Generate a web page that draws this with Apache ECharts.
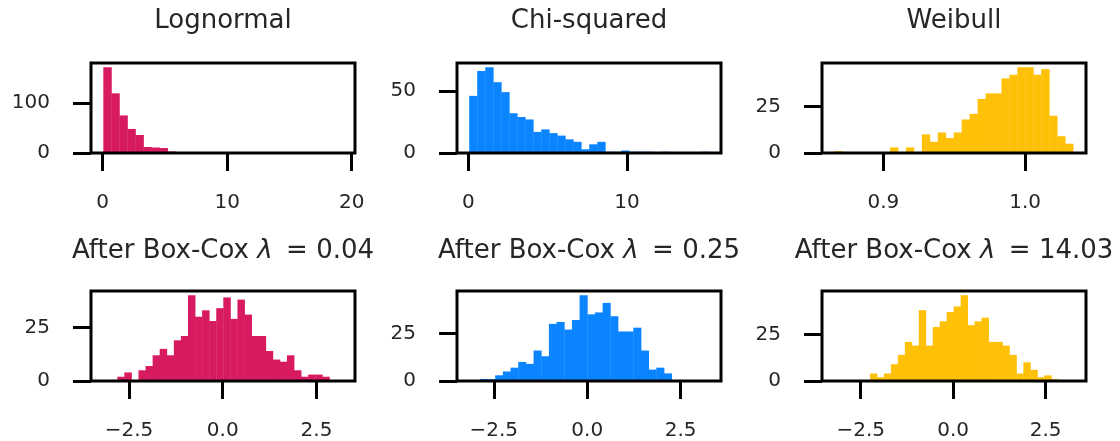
<!DOCTYPE html>
<html>
<head>
<meta charset="utf-8">
<script src="https://cdn.jsdelivr.net/npm/echarts@6/dist/echarts.min.js"></script>
<style>
  html, body { margin: 0; padding: 0; background: #ffffff; }
  #chart { width: 1120px; height: 441px; }
</style>
</head>
<body>
<div id="chart"></div>
<script>
// ---- Titles ----
const topTitles = ['Lognormal', 'Chi-squared', 'Weibull'];
const boxCoxLambdas = ['0.04', '0.25', '14.03'];

// ---- Histogram bins: first edge, bin width, counts per bin ----
const lognormalStart = 0.05, lognormalWidth = 0.645;
const lognormalCounts = [171, 119, 75, 48, 36, 12, 11, 10, 3, 2, 2, 2, 1, 1, 1, 0, 1, 0, 1, 0, 0, 1, 0, 0, 0, 1, 0, 0, 0, 1];

const chiSquaredStart = 0.06, chiSquaredWidth = 0.504;
const chiSquaredCounts = [46, 66, 69, 57, 49, 32, 29, 27, 17, 19, 16, 14, 11, 9, 3, 7, 9, 1, 1, 2, 1, 1, 1, 0, 1, 0, 0, 0, 0, 1];

const weibullStart = 0.8654, weibullWidth = 0.005616;
const weibullCounts = [1, 0, 0, 0, 0, 0, 0, 3, 0, 3, 0, 10, 6, 11, 8, 11, 18, 21, 29, 32, 32, 40, 42, 46, 46, 42, 45, 20, 9, 5];

const lognormalBcStart = -2.811, lognormalBcWidth = 0.1885;
const lognormalBcCounts = [2, 4, 0, 5, 7, 12, 15, 12, 19, 21, 40, 30, 33, 28, 34, 39, 29, 38, 31, 21, 21, 14, 10, 9, 12, 5, 2, 3, 3, 2];

const chiSquaredBcStart = -2.873, chiSquaredBcWidth = 0.2053;
const chiSquaredBcCounts = [1, 1, 3, 5, 7, 10, 9, 16, 13, 30, 31, 27, 32, 45, 35, 36, 41, 34, 26, 26, 28, 16, 6, 7, 4];

const weibullBcStart = -2.249, weibullBcWidth = 0.1885;
const weibullBcCounts = [4, 2, 4, 9, 14, 21, 19, 38, 19, 29, 32, 37, 40, 46, 30, 32, 34, 21, 21, 19, 14, 4, 10, 6, 2, 3, 1];

// ---- Axis ranges and ticks ----
const xRanges = [[-0.94, 20.27], [-0.71, 15.92], [0.8567, 1.0430], [-3.512, 3.528], [-3.485, 3.58], [-3.546, 3.59]];
const xTickValues = [[0, 10, 20], [0, 10], [0.9, 1.0], [-2.5, 0, 2.5], [-2.5, 0, 2.5], [-2.5, 0, 2.5]];
const xTickLabels = [['0', '10', '20'], ['0', '10'], ['0.9', '1.0'], ['\u22122.5', '0.0', '2.5'], ['\u22122.5', '0.0', '2.5'], ['\u22122.5', '0.0', '2.5']];
const yTickValues = [[0, 100], [0, 50], [0, 25], [0, 25], [0, 25], [0, 25]];
const yTickLabels = [['0', '100'], ['0', '50'], ['0', '25'], ['0', '25'], ['0', '25'], ['0', '25']];

const colors = ['#D81B60', '#0A84FF', '#FFC107'];

const panels = [
  [lognormalStart, lognormalWidth, lognormalCounts],
  [chiSquaredStart, chiSquaredWidth, chiSquaredCounts],
  [weibullStart, weibullWidth, weibullCounts],
  [lognormalBcStart, lognormalBcWidth, lognormalBcCounts],
  [chiSquaredBcStart, chiSquaredBcWidth, chiSquaredBcCounts],
  [weibullBcStart, weibullBcWidth, weibullBcCounts]
];

// ---- Layout of the 2 x 3 panel grid (pixels) ----
const colLefts = [91, 457, 822];
const panelWidth = 264;
const rowTops = [63, 291];
const rowHeights = [90, 92];
const titleY = [21, 251];

const FONT = 'DejaVu Sans';
const TEXT = '#262626';
const INK = '#000000';

function histData(start, width, counts) {
  return counts.map((c, i) => [start + i * width, start + (i + 1) * width, c]);
}

function labelFormatter(values, labels) {
  return function (v) {
    for (let i = 0; i < values.length; i++) {
      if (Math.abs(values[i] - v) < 1e-9) return labels[i];
    }
    return '';
  };
}

const grids = [], xAxes = [], yAxes = [], series = [], graphics = [];

for (let p = 0; p < 6; p++) {
  const row = Math.floor(p / 3), col = p % 3;
  const [start, width, counts] = panels[p];
  const color = colors[col];
  const yMax = Math.max.apply(null, counts) * 1.05;

  grids.push({
    left: colLefts[col], top: rowTops[row],
    width: panelWidth, height: rowHeights[row],
    show: true, borderColor: INK, borderWidth: 3,
    backgroundColor: 'transparent', z: 5
  });

  xAxes.push({
    type: 'value', gridIndex: p, position: 'bottom',
    min: xRanges[p][0], max: xRanges[p][1],
    axisLine: { show: false, onZero: false },
    splitLine: { show: false },
    axisTick: {
      show: true, length: 18, inside: false,
      lineStyle: { color: INK, width: 3 },
      customValues: xTickValues[p]
    },
    axisLabel: {
      show: true, margin: 40, fontSize: 20, fontFamily: FONT, color: TEXT,
      customValues: xTickValues[p],
      formatter: labelFormatter(xTickValues[p], xTickLabels[p])
    }
  });

  yAxes.push({
    type: 'value', gridIndex: p, position: 'left',
    min: 0, max: yMax,
    axisLine: { show: false, onZero: false },
    splitLine: { show: false },
    axisTick: {
      show: true, length: 18, inside: false,
      lineStyle: { color: INK, width: 3 },
      customValues: yTickValues[p]
    },
    axisLabel: {
      show: true, margin: 41, fontSize: 20, fontFamily: FONT, color: TEXT,
      padding: [3, 0, 0, 0],
      customValues: yTickValues[p],
      formatter: labelFormatter(yTickValues[p], yTickLabels[p])
    }
  });

  series.push({
    type: 'custom',
    xAxisIndex: p, yAxisIndex: p,
    clip: true,
    data: histData(start, width, counts),
    encode: { x: [0, 1], y: 2 },
    renderItem: function (params, api) {
      const a = api.coord([api.value(0), api.value(2)]);
      const b = api.coord([api.value(1), 0]);
      return {
        type: 'rect',
        shape: { x: a[0], y: a[1], width: b[0] - a[0] + 0.4, height: b[1] - a[1] },
        style: { fill: color }
      };
    }
  });

  const cx = colLefts[col] + panelWidth / 2;
  const titleText = row === 0
    ? topTitles[col]
    : 'After Box-Cox {i|\u03bb}\u2009 = ' + boxCoxLambdas[col];
  graphics.push({
    type: 'text', x: cx, y: titleY[row],
    style: {
      text: titleText,
      fontSize: 26, fontFamily: FONT, fill: TEXT,
      align: 'center', verticalAlign: 'middle',
      rich: { i: { fontSize: 26, fontFamily: FONT, fontStyle: 'italic', fill: TEXT } }
    }
  });
}

const chart = echarts.init(document.getElementById('chart'), null, { renderer: 'canvas' });
chart.setOption({
  animation: false,
  backgroundColor: '#ffffff',
  grid: grids,
  xAxis: xAxes,
  yAxis: yAxes,
  series: series,
  graphic: graphics
});
</script>
</body>
</html>
